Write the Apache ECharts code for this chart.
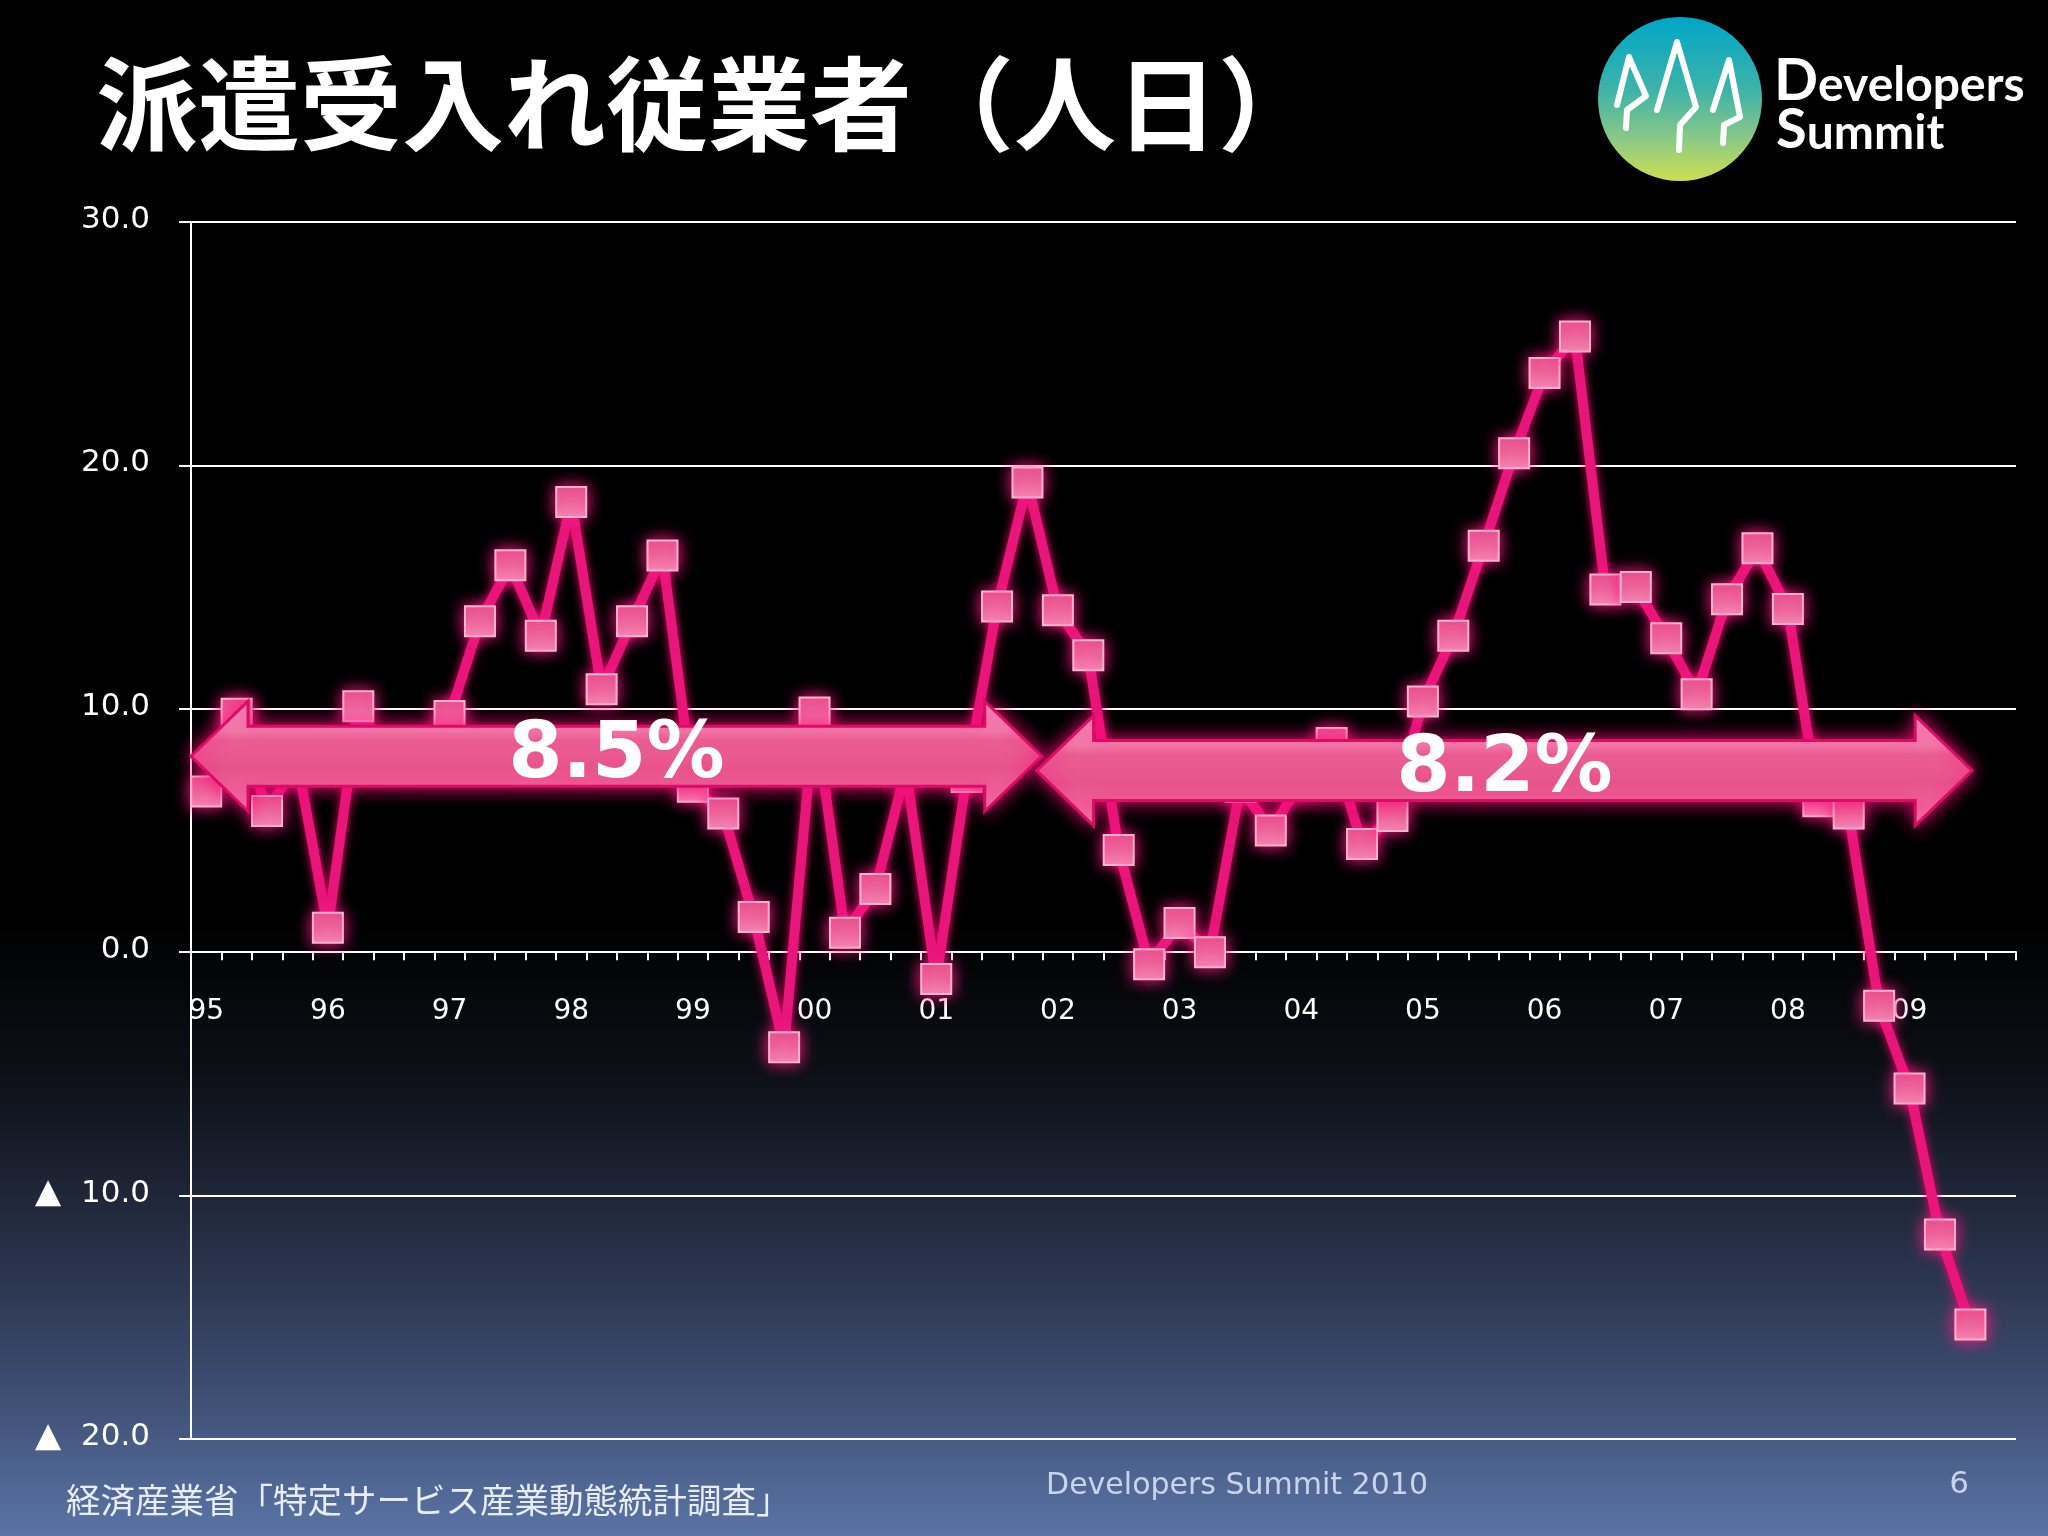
<!DOCTYPE html>
<html>
<head>
<meta charset="utf-8">
<script src="https://cdn.jsdelivr.net/npm/echarts@6/dist/echarts.min.js"></script>
<style>html,body{margin:0;padding:0;background:#000;}#c{width:2048px;height:1536px;}</style>
</head>
<body>
<div id="c"></div>
<script>
// ---- data ----
const years = ['95','96','97','98','99','00','01','02','03','04','05','06','07','08','09'];
const quarters = ['Q1','Q2','Q3','Q4'];
const values = [
  6.6, 9.8, 5.8, 7.8,      // 95
  1.0, 10.1, 7.9, 8.3,     // 96
  9.7, 13.6, 15.9, 13.0,   // 97
  18.5, 10.8, 13.6, 16.3,  // 98
  6.8, 5.7, 1.45, -3.9,    // 99
  9.85, 0.8, 2.6, 7.5,     // 00
  -1.1, 7.2, 14.2, 19.3,   // 01
  14.05, 12.2, 4.2, -0.5,  // 02
  1.2, 0.0, 6.8, 5.0,      // 03
  7.0, 8.6, 4.45, 5.6,     // 04
  10.3, 13.0, 16.7, 20.5,  // 05
  23.8, 25.3, 14.9, 15.0,  // 06
  12.9, 10.6, 14.5, 16.6,  // 07
  14.1, 6.2, 5.7, -2.2,    // 08
  -5.6, -11.6, -15.3       // 09
];
const yTicks = [-20, -10, 0, 10, 20, 30];
const arrowLabels = ['8.5%', '8.2%'];
const arrowFrom = [-0.5, 27.3];   // category index
const arrowTo = [27.47, 58.06];
const arrowLevel = [8.05, 7.46];  // value axis
const titleText = '派遣受入れ従業者（人日）';
const sourceText = '経済産業省「特定サービス産業動態統計調査」';
const footerText = 'Developers Summit 2010';
const pageNo = '6';

const categories = [];
years.forEach(y => quarters.forEach(q => categories.push(y + q)));

const chart = echarts.init(document.getElementById('c'), null, {renderer: 'canvas', width: 2048, height: 1536});

const gridTop = 222, gridBottom = 97, gridH = 1536 - gridTop - gridBottom;
const yMin = yTicks[0], yMax = yTicks[yTicks.length - 1];
// move the category axis up onto the zero line
const zeroOffset = -gridH * (0 - yMin) / (yMax - yMin);

const pink = '#e8157a';
const option = {
  animation: false,
  backgroundColor: {
    type: 'linear', x: 0, y: 0, x2: 0, y2: 1,
    colorStops: [
      {offset: 0, color: '#000000'},
      {offset: 0.6, color: '#000000'},
      {offset: 0.7, color: '#0d1017'},
      {offset: 0.8, color: '#242c41'},
      {offset: 0.9, color: '#3c4b6f'},
      {offset: 1, color: '#5a74a6'}
    ]
  },
  grid: {left: 191, right: 32, top: gridTop, bottom: gridBottom, containLabel: false},
  xAxis: {
    type: 'category',
    data: categories,
    boundaryGap: true,
    offset: zeroOffset,
    axisLine: {show: true, onZero: false, lineStyle: {color: '#ffffff', width: 2}},
    axisTick: {show: true, interval: 0, length: 8, lineStyle: {color: '#ffffff', width: 2}},
    axisLabel: {
      show: true, interval: 3, color: '#ffffff', fontSize: 28, fontFamily: 'DejaVu Sans',
      margin: 46, formatter: v => v.slice(0, 2)
    },
    splitLine: {show: false}
  },
  yAxis: {
    type: 'value',
    min: yMin, max: yMax, interval: 10,
    axisLine: {show: true, lineStyle: {color: '#ffffff', width: 2}},
    axisTick: {show: true, length: 12, lineStyle: {color: '#ffffff', width: 2}},
    axisLabel: {
      color: '#ffffff', fontSize: 31, fontFamily: 'DejaVu Sans', margin: 41,
      padding: [0, 0, 4, 0],
      formatter: v => (v < 0 ? '{t|▲}  ' + Math.abs(v).toFixed(1) : v.toFixed(1)),
      rich: {t: {fontSize: 34, fontFamily: 'DejaVu Sans', color: '#ffffff'}}
    },
    splitLine: {show: true, lineStyle: {color: '#ffffff', width: 2}}
  },
  series: [{
    type: 'line',
    data: values,
    symbol: 'rect',
    symbolSize: 30,
    showSymbol: true,
    showAllSymbol: true,
    z: 5,
    lineStyle: {color: pink, width: 10, shadowBlur: 10, shadowColor: 'rgba(255,0,110,0.9)'},
    itemStyle: {
      color: {type: 'linear', x: 0, y: 0, x2: 0, y2: 1, colorStops: [
        {offset: 0, color: '#e9558f'},
        {offset: 0.5, color: '#ec6b9d'},
        {offset: 1, color: '#f593ba'}
      ]},
      borderColor: '#ffb2d0', borderWidth: 2,
      shadowBlur: 16, shadowColor: '#ff1a85'
    },
    emphasis: {disabled: true}
  }]
};
chart.setOption(option);

function toPx(xi, yv) {
  const p0 = chart.convertToPixel({gridIndex: 0}, [0, yv]);
  const p1 = chart.convertToPixel({gridIndex: 0}, [1, yv]);
  return [p0[0] + (p1[0] - p0[0]) * xi, p0[1]];
}

const graphics = [];
// title
graphics.push({
  type: 'text', left: 96, top: 104 - 51, z: 10,
  style: {text: titleText, fill: '#ffffff', font: 'bold 102px "Noto Sans CJK JP"'}
});
// logo
graphics.push({
  type: 'circle', shape: {cx: 1680, cy: 99, r: 82}, z: 10,
  style: {fill: {type: 'linear', x: 0, y: 0, x2: 0, y2: 1, colorStops: [
    {offset: 0, color: '#00a6c8'},
    {offset: 0.45, color: '#3fb3a8'},
    {offset: 0.75, color: '#8cc986'},
    {offset: 1, color: '#cde04e'}
  ]}}
});
const figs = [
  [[1617,105],[1629,57],[1646,96],[1627,110],[1626,128]],
  [[1657,110],[1677,42],[1696,107],[1680,125],[1679,150]],
  [[1713,110],[1729,60],[1740,117],[1724,125],[1723,143]]
];
figs.forEach(pts => graphics.push({
  type: 'polyline', shape: {points: pts}, z: 11,
  style: {stroke: '#ffffff', lineWidth: 6, fill: null, lineJoin: 'round', lineCap: 'round'}
}));
graphics.push({
  type: 'text', left: 1774, top: 52, z: 11,
  style: {
    text: '{a|D}{b|evelopers}', fill: '#ffffff',
    rich: {
      a: {fontSize: 58, fontFamily: 'Lato', fontWeight: 'bold', fill: '#ffffff', lineHeight: 58, verticalAlign: 'bottom'},
      b: {fontSize: 48, fontFamily: 'Lato', fontWeight: 'bold', fill: '#ffffff', lineHeight: 58, verticalAlign: 'bottom'}
    }
  }
});
graphics.push({
  type: 'text', left: 1776, top: 102, z: 11,
  style: {
    text: '{a|S}{b|ummit}', fill: '#ffffff',
    rich: {
      a: {fontSize: 56, fontFamily: 'Lato', fontWeight: 'bold', fill: '#ffffff', lineHeight: 56, verticalAlign: 'bottom'},
      b: {fontSize: 48, fontFamily: 'Lato', fontWeight: 'bold', fill: '#ffffff', lineHeight: 56, verticalAlign: 'bottom'}
    }
  }
});
// footers
graphics.push({
  type: 'text', left: 66, top: 1502 - 19, z: 10,
  style: {text: sourceText, fill: '#e8ecf6', font: '34.5px "Noto Sans CJK JP"'}
});
graphics.push({
  type: 'text', x: 1237, y: 1486, z: 10,
  style: {text: footerText, fill: '#c9d3ea', font: '30px "DejaVu Sans"', align: 'center', verticalAlign: 'middle'}
});
graphics.push({
  type: 'text', x: 1959, y: 1485, z: 10,
  style: {text: pageNo, fill: '#c9d3ea', font: '31px "DejaVu Sans"', align: 'center', verticalAlign: 'middle'}
});

// arrows
const headLen = 57, headHalf = 55, bodyHalf = 30;
arrowLabels.forEach((lab, k) => {
  const pl = toPx(arrowFrom[k], arrowLevel[k]);
  const pr = toPx(arrowTo[k], arrowLevel[k]);
  const xl = pl[0], xr = pr[0], yc = pl[1];
  const pts = [
    [xl, yc], [xl + headLen, yc - headHalf], [xl + headLen, yc - bodyHalf],
    [xr - headLen, yc - bodyHalf], [xr - headLen, yc - headHalf], [xr, yc],
    [xr - headLen, yc + headHalf], [xr - headLen, yc + bodyHalf],
    [xl + headLen, yc + bodyHalf], [xl + headLen, yc + headHalf]
  ];
  graphics.push({
    type: 'polygon', shape: {points: pts}, z: 50,
    style: {
      fill: {type: 'linear', x: 0, y: 0, x2: 0, y2: 1, colorStops: [
        {offset: 0, color: '#f6a2c4'},
        {offset: 0.28, color: '#f080ab'},
        {offset: 0.36, color: '#ea5f93'},
        {offset: 0.6, color: '#e8548b'},
        {offset: 0.8, color: '#ec6a9b'},
        {offset: 1, color: '#f592b9'}
      ]},
      stroke: '#d80d66', lineWidth: 3,
      shadowBlur: 18, shadowColor: 'rgba(255,10,120,0.95)'
    }
  });
  graphics.push({
    type: 'text', x: (xl + xr) / 2, y: yc, z: 51,
    style: {text: lab, fill: '#ffffff', font: 'bold 78px "DejaVu Sans"', align: 'center', verticalAlign: 'middle'}
  });
});

chart.setOption({graphic: graphics});
</script>
</body>
</html>
